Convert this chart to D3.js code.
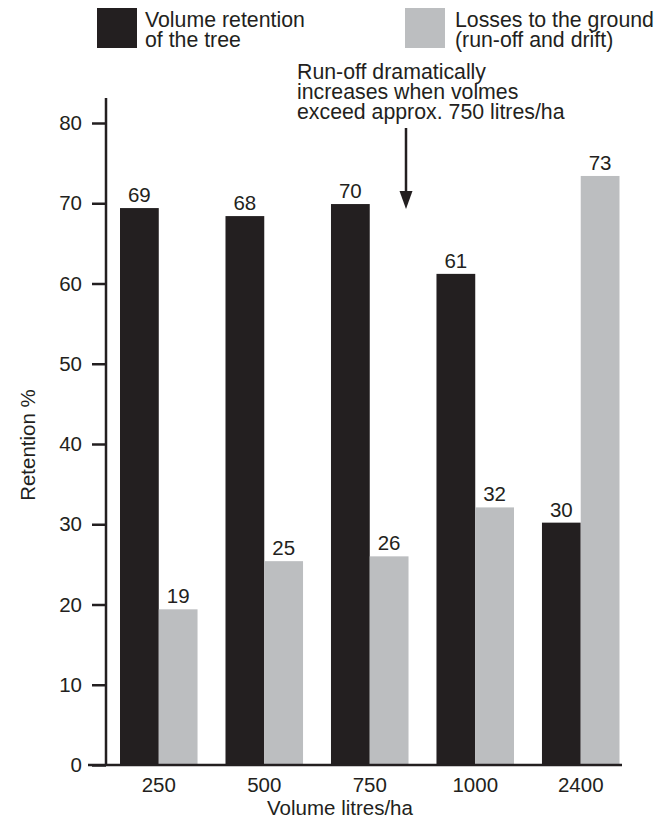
<!DOCTYPE html>
<html>
<head>
<meta charset="utf-8">
<script src="https://cdn.jsdelivr.net/npm/d3@7"></script>
<style>
  html, body { margin: 0; padding: 0; background: #fff; }
  svg { display: block; font-family: "Liberation Sans", Arial, Helvetica, sans-serif; }
</style>
</head>
<body>
<svg id="chart" width="659" height="820"></svg>
<script>
// ---- data ----
const categories = ["250", "500", "750", "1000", "2400"];
const treeRetention = [69.4, 68.4, 69.9, 61.2, 30.2];
const groundLosses = [19.4, 25.4, 26.0, 32.1, 73.4];
const yTicks = [0, 10, 20, 30, 40, 50, 60, 70, 80];
const seriesNames = ["Volume retention\nof the tree", "Losses to the ground\n(run-off and drift)"];
const annotationLines = ["Run-off dramatically", "increases when volmes", "exceed approx. 750 litres/ha"];
const xTitle = "Volume litres/ha";
const yTitle = "Retention %";

// ---- styles ----
const C_DARK = "#231f20";
const C_GREY = "#bcbec0";
const FS = 20.5;
const FS_NOTE = 21.3;

const svg = d3.select("#chart");

const axisX = 106;
const y = d3.scaleLinear().domain([0, 80]).range([765, 123]);
const x0 = d3.scaleBand().domain(categories).range([120, 619.5]).paddingInner(0.265).paddingOuter(0);
const x1 = d3.scaleBand().domain([0, 1]).range([0, x0.bandwidth()]).padding(0);

const series = [treeRetention, groundLosses];
const colors = [C_DARK, C_GREY];

// bars
series.forEach((vals, si) => {
  const g = svg.append("g");
  g.selectAll("rect").data(vals).join("rect")
    .attr("x", (d, i) => x0(categories[i]) + x1(si))
    .attr("y", d => y(d))
    .attr("width", x1.bandwidth())
    .attr("height", d => y(0) - y(d))
    .attr("fill", colors[si]);
  g.selectAll("text").data(vals).join("text")
    .attr("x", (d, i) => x0(categories[i]) + x1(si) + x1.bandwidth() / 2)
    .attr("y", d => y(d) - 6)
    .attr("text-anchor", "middle")
    .attr("font-size", FS)
    .attr("fill", C_DARK)
    .text(d => d3.format(".0f")(d));
});

// y axis
const yAxis = d3.axisLeft(y).tickValues(yTicks).tickSize(14).tickPadding(10).tickFormat(d3.format("d"));
const yg = svg.append("g").attr("transform", `translate(${axisX},0)`).call(yAxis);
yg.select(".domain").remove();
yg.selectAll(".tick line").attr("stroke", C_DARK).attr("stroke-width", 2.5);
yg.selectAll(".tick text").attr("font-size", FS).attr("fill", C_DARK).attr("font-family", "Liberation Sans, Arial, sans-serif");
svg.append("line").attr("x1", axisX).attr("x2", axisX).attr("y1", 98).attr("y2", y(0))
  .attr("stroke", C_DARK).attr("stroke-width", 2.5);
// baseline
svg.append("line").attr("x1", 88).attr("x2", 622).attr("y1", y(0)).attr("y2", y(0))
  .attr("stroke", C_DARK).attr("stroke-width", 2.5);

// x labels
const xAxis = d3.axisBottom(x0).tickSize(0).tickPadding(12);
const xg = svg.append("g").attr("transform", `translate(0,${y(0)})`).call(xAxis);
xg.select(".domain").remove();
xg.selectAll(".tick text").attr("font-size", FS).attr("fill", C_DARK).attr("font-family", "Liberation Sans, Arial, sans-serif");

// axis titles
svg.append("text").attr("x", 340).attr("y", 815).attr("text-anchor", "middle")
  .attr("font-size", FS).attr("fill", C_DARK).text(xTitle);
svg.append("text").attr("transform", "translate(35,445) rotate(-90)").attr("text-anchor", "middle")
  .attr("font-size", FS).attr("fill", C_DARK).text(yTitle);

// legend
const legendX = [97, 405];
seriesNames.forEach((name, i) => {
  const g = svg.append("g").attr("transform", `translate(${legendX[i]},8)`);
  g.append("rect").attr("width", 40).attr("height", 40).attr("fill", colors[i]);
  const t = g.append("text").attr("font-size", FS_NOTE).attr("fill", C_DARK);
  name.split("\n").forEach((ln, k) => {
    t.append("tspan").attr("x", i === 0 ? 48 : 50).attr("y", 19 + k * 20).text(ln);
  });
});

// annotation
const at = svg.append("text").attr("font-size", FS_NOTE).attr("fill", C_DARK);
annotationLines.forEach((ln, k) => {
  at.append("tspan").attr("x", 297).attr("y", 79 + k * 20).text(ln);
});
const ax = 406;
svg.append("line").attr("x1", ax).attr("x2", ax).attr("y1", 128).attr("y2", 194)
  .attr("stroke", C_DARK).attr("stroke-width", 2.5);
svg.append("path").attr("d", `M${ax - 6.5},191 L${ax + 6.5},191 L${ax},209 Z`).attr("fill", C_DARK);
</script>
</body>
</html>
